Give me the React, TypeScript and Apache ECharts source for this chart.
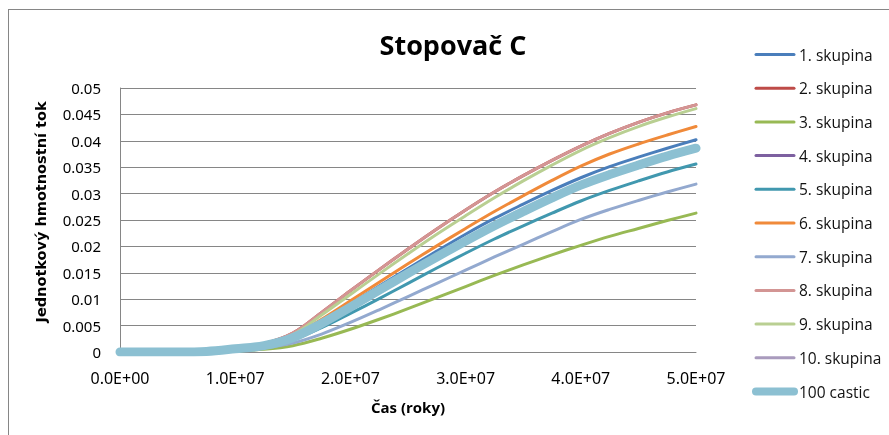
import React, { useEffect, useRef } from "react";
import * as echarts from "echarts";

const TITLE = "Stopovač C";
const X_NAME = "Čas (roky)";
const Y_NAME = "Jednotkový hmotnostní tok";

const TIME = [0, 2.5e6, 5e6, 7.5e6, 1e7, 1.25e7, 1.5e7, 1.75e7, 2e7, 2.25e7, 2.5e7, 2.75e7, 3e7, 3.25e7, 3.5e7, 3.75e7, 4e7, 4.25e7, 4.5e7, 4.75e7, 5e7];

const S1 = [0, 0, 0, 0.0001, 0.0006, 0.0012, 0.0028, 0.0058, 0.0091, 0.0125, 0.0158, 0.0191, 0.0223, 0.0253, 0.0280, 0.0306, 0.0330, 0.0351, 0.0369, 0.0386, 0.0402];
const S2 = [0, 0, 0, 0.0002, 0.0007, 0.0016, 0.0036, 0.0075, 0.0116, 0.0156, 0.0195, 0.0233, 0.0269, 0.0303, 0.0334, 0.0363, 0.0390, 0.0414, 0.0435, 0.0453, 0.0468];
const S3 = [0, 0, 0, 0, 0.0002, 0.0005, 0.0012, 0.0026, 0.0043, 0.0062, 0.0082, 0.0103, 0.0124, 0.0145, 0.0165, 0.0184, 0.0202, 0.0219, 0.0234, 0.0249, 0.0263];
const S4 = [0, 0, 0, 0.0001, 0.0006, 0.0012, 0.0028, 0.0056, 0.0088, 0.0120, 0.0152, 0.0183, 0.0214, 0.0243, 0.0270, 0.0296, 0.0320, 0.0340, 0.0358, 0.0375, 0.0390];
const S5 = [0, 0, 0, 0.0001, 0.0005, 0.0010, 0.0023, 0.0046, 0.0073, 0.0101, 0.0130, 0.0159, 0.0187, 0.0214, 0.0239, 0.0263, 0.0286, 0.0306, 0.0324, 0.0341, 0.0356];
const S6 = [0, 0, 0, 0.0001, 0.0006, 0.0013, 0.0030, 0.0062, 0.0097, 0.0132, 0.0167, 0.0201, 0.0234, 0.0266, 0.0296, 0.0325, 0.0352, 0.0375, 0.0394, 0.0411, 0.0427];
const S7 = [0, 0, 0, 0.0001, 0.0004, 0.0008, 0.0017, 0.0034, 0.0056, 0.0080, 0.0105, 0.0130, 0.0155, 0.0180, 0.0204, 0.0228, 0.0251, 0.0270, 0.0287, 0.0303, 0.0318];
const S8 = [0, 0, 0, 0.0002, 0.0007, 0.0016, 0.0036, 0.0075, 0.0116, 0.0156, 0.0195, 0.0233, 0.0269, 0.0303, 0.0334, 0.0363, 0.0390, 0.0414, 0.0435, 0.0453, 0.0468];
const S9 = [0, 0, 0, 0.0002, 0.0006, 0.0014, 0.0033, 0.0070, 0.0109, 0.0148, 0.0186, 0.0223, 0.0258, 0.0292, 0.0324, 0.0354, 0.0382, 0.0406, 0.0427, 0.0445, 0.0461];
const S10 = [0, 0, 0, 0.0001, 0.0005, 0.0011, 0.0026, 0.0052, 0.0082, 0.0114, 0.0146, 0.0177, 0.0206, 0.0235, 0.0262, 0.0288, 0.0312, 0.0332, 0.0350, 0.0367, 0.0382];
const S100 = [0, 0, 0, 0.0001, 0.0006, 0.0012, 0.0027, 0.0054, 0.0085, 0.0117, 0.0149, 0.0180, 0.0210, 0.0239, 0.0266, 0.0292, 0.0316, 0.0336, 0.0354, 0.0371, 0.0386];

const SERIES_NAMES = ["1. skupina", "2. skupina", "3. skupina", "4. skupina", "5. skupina", "6. skupina", "7. skupina", "8. skupina", "9. skupina", "10. skupina", "100 castic"];
const SERIES_VALUES = [S1, S2, S3, S4, S5, S6, S7, S8, S9, S10, S100];
const COLORS = ["#4A7EBB", "#BE4B48", "#98B954", "#7D60A0", "#4198AF", "#F08A3A", "#93A9CF", "#D39594", "#B9CF92", "#A99BBD", "#8CC0D2"];
const WIDTHS = [3, 3, 3, 3, 3, 3, 3, 3, 3, 3, 9];
const LEGEND_WIDTHS = [3, 3, 3, 3, 3, 3, 3, 3, 3, 3, 8];

function fmtX(v: number): string {
  if (v === 0) return "0.0E+00";
  const e = Math.floor(Math.log10(v) + 1e-9);
  const m = v / Math.pow(10, e);
  return m.toFixed(1) + "E+" + (e < 10 ? "0" + e : String(e));
}

export default function App() {
  const ref = useRef<HTMLDivElement>(null);
  useEffect(() => {
    if (!ref.current) return;
    const chart = echarts.init(ref.current, undefined, { renderer: "svg" });
    const series = SERIES_NAMES.map((name, i) => ({
      name,
      type: "line",
      data: TIME.map((t, j) => [t, SERIES_VALUES[i][j]]),
      symbol: "none",
      smooth: 0.35,
      lineStyle: { color: COLORS[i], width: WIDTHS[i], cap: "round", join: "round" },
      itemStyle: { color: COLORS[i] },
      z: 2 + i,
    }));
    chart.setOption({
      animation: false,
      grid: { left: 120, right: 193, top: 88, bottom: 83, containLabel: false },
      xAxis: {
        type: "value",
        min: 0,
        max: 5e7,
        interval: 1e7,
        axisLine: { show: true, lineStyle: { color: "#868686", width: 1 } },
        axisTick: { show: false },
        splitLine: { show: false },
        axisLabel: {
          formatter: (v: number) => fmtX(v),
          fontFamily: "Noto Sans",
          fontSize: 16,
          color: "#000",
          margin: 18,
        },
      },
      yAxis: {
        type: "value",
        min: 0,
        max: 0.05,
        interval: 0.005,
        axisLine: { show: true, lineStyle: { color: "#868686", width: 1 } },
        axisTick: { show: false },
        splitLine: { show: true, lineStyle: { color: "#868686", width: 1 } },
        axisLabel: {
          formatter: (v: number) => (v === 0 ? "0" : String(+v.toFixed(3))),
          fontFamily: "Noto Sans",
          fontSize: 15,
          color: "#000",
          margin: 19,
        },
      },
      legend: {
        orient: "vertical",
        left: 747,
        top: 41.5,
        itemWidth: 38,
        itemHeight: 15,
        itemGap: 17.7,
        itemStyle: { opacity: 0 },
        data: SERIES_NAMES.map((name, i) => ({
          name,
          lineStyle: { width: LEGEND_WIDTHS[i], color: COLORS[i], cap: "round" },
        })),
        textStyle: { fontFamily: "Open Sans", fontSize: 15.5, color: "#111" },
      },
      graphic: [
        {
          type: "text",
          x: 453,
          y: 44,
          style: {
            text: TITLE,
            font: "bold 27px 'Open Sans'",
            fill: "#000",
            textAlign: "center",
            textVerticalAlign: "middle",
          },
        },
        {
          type: "text",
          x: 408,
          y: 407,
          style: {
            text: X_NAME,
            font: "bold 15px 'Open Sans'",
            fill: "#000",
            textAlign: "center",
            textVerticalAlign: "middle",
          },
        },
        {
          type: "text",
          x: 41,
          y: 212,
          rotation: Math.PI / 2,
          style: {
            text: Y_NAME,
            font: "bold 14.5px 'DejaVu Sans'",
            fill: "#000",
            textAlign: "center",
            textVerticalAlign: "middle",
          },
        },
      ],
      series,
    });
    return () => chart.dispose();
  }, []);
  return (
    <>
      <div
        style={{
          position: "fixed",
          left: 8,
          top: 9,
          width: 1000,
          height: 600,
          border: "1px solid #868686",
          boxSizing: "border-box",
        }}
      />
      <div ref={ref} style={{ position: "fixed", left: 0, top: 0, width: 889, height: 435 }} />
    </>
  );
}
